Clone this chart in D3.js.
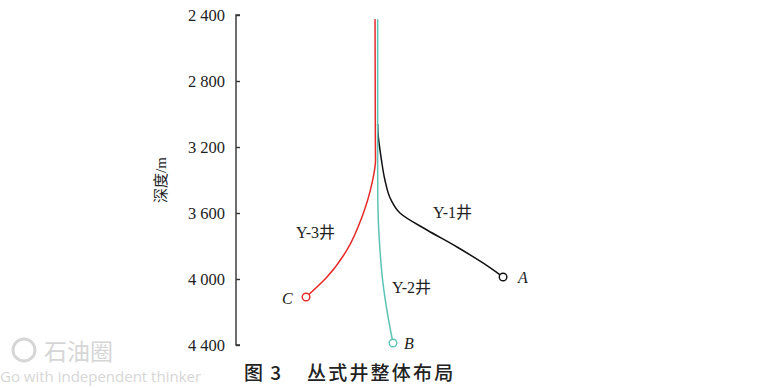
<!DOCTYPE html>
<html><head><meta charset="utf-8">
<script src="https://cdn.jsdelivr.net/npm/d3@7"></script>
<style>body{margin:0;background:#fff}</style>
</head><body>
<svg id="c" width="775" height="388"></svg>
<script>
// data: [horizontal displacement (m), depth (m)]
const depthTicks = [2400, 2800, 3200, 3600, 4000, 4400];
const tickLabels = ["2 400", "2 800", "3 200", "3 600", "4 000", "4 400"];
const wellNames = ["Y-1井", "Y-2井", "Y-3井"];
const targetNames = ["A", "B", "C"];
const wellY1 = [[4,3060],[6,3115],[13,3180],[27,3279],[48,3400],[85,3521],[139,3600],[303,3703],[485,3806],[642,3903],[764,3988]];
const wellY2 = [[4,2425],[4,3300],[5,3521],[18,3824],[36,4024],[67,4230],[97,4388]];
const wellY3 = [[-12,2425],[-10,3150],[-9,3279],[-30,3418],[-91,3624],[-182,3824],[-303,3988],[-430,4109]];
const colors = ["#111111", "#5cc3b5", "#e52a2a"];

const svg = d3.select("#c");
const y = d3.scaleLinear().domain([2400, 4400]).range([15, 345]);
const x = d3.scaleLinear().domain([0, 400]).range([377, 377 + 66]);

// axis
const ax = d3.axisRight(y).tickValues(depthTicks).tickSize(4).tickFormat("");
const g = svg.append("g").attr("transform", "translate(236,0)").call(ax);
g.select(".domain").attr("stroke", "#333").attr("stroke-width", 1.4).attr("d", "M4,15H0V345H4");
g.selectAll(".tick line").attr("stroke", "#333").attr("stroke-width", 1.4);
svg.selectAll("text.tl").data(depthTicks).enter().append("text")
  .attr("class", "tl").attr("x", 225).attr("y", d => y(d) + 5.5)
  .attr("text-anchor", "end").attr("font-family", "Liberation Serif").attr("font-size", 16.5)
  .attr("fill", "#222").text((d, i) => tickLabels[i]);
svg.append("text").attr("transform", "translate(166,180) rotate(-90)")
  .attr("text-anchor", "middle").attr("font-family", "Liberation Serif, Noto Sans CJK SC").attr("font-size", 15)
  .attr("fill", "#222").text("深度/m");

const line = d3.line().x(d => x(d[0])).y(d => y(d[1])).curve(d3.curveMonotoneY);
const wells = [wellY1, wellY2, wellY3];
wells.forEach((w, i) => {
  svg.append("path").attr("d", line(w)).attr("fill", "none")
    .attr("stroke", colors[i]).attr("stroke-width", 1.5);
});
wells.forEach((w, i) => {
  const e = w[w.length - 1];
  svg.append("circle").attr("cx", x(e[0])).attr("cy", y(e[1])).attr("r", 3.8)
    .attr("fill", "#fff").attr("stroke", colors[i]).attr("stroke-width", 1.4);
});

// well labels
const wellLabelPos = [[433, 218], [392, 293], [296, 238]];
wellNames.forEach((n, i) => {
  svg.append("text").attr("x", wellLabelPos[i][0]).attr("y", wellLabelPos[i][1])
    .attr("font-family", "Liberation Serif, Noto Sans CJK SC").attr("font-size", 16)
    .attr("fill", "#222").text(n);
});
const targetPos = [[518, 283], [404, 349], [282, 304]];
targetNames.forEach((n, i) => {
  svg.append("text").attr("x", targetPos[i][0]).attr("y", targetPos[i][1])
    .attr("font-family", "Liberation Serif").attr("font-style", "italic").attr("font-size", 16)
    .attr("fill", "#222").text(n);
});

// caption
svg.append("text").attr("x", 244).attr("y", 380)
  .attr("font-family", "Noto Sans CJK SC").attr("font-size", 19).attr("font-weight", 500)
  .attr("fill", "#222").attr("letter-spacing", 1.5)
  .text("图 3");
svg.append("text").attr("x", 307).attr("y", 380)
  .attr("font-family", "Noto Sans CJK SC").attr("font-size", 19).attr("font-weight", 500)
  .attr("fill", "#222").attr("letter-spacing", 2.2)
  .text("丛式井整体布局");

// watermark
const wm = svg.append("g").attr("fill", "#d6d6d6");
wm.append("circle").attr("cx", 24).attr("cy", 350).attr("r", 11).attr("fill", "none").attr("stroke", "#d6d6d6").attr("stroke-width", 3);
wm.append("text").attr("x", 44).attr("y", 360).attr("font-family", "Noto Sans CJK SC").attr("font-size", 23).text("石油圈");
wm.append("text").attr("x", 0).attr("y", 382).attr("font-family", "Open Sans").attr("font-size", 15).text("Go with independent thinker");
</script>
</body></html>
